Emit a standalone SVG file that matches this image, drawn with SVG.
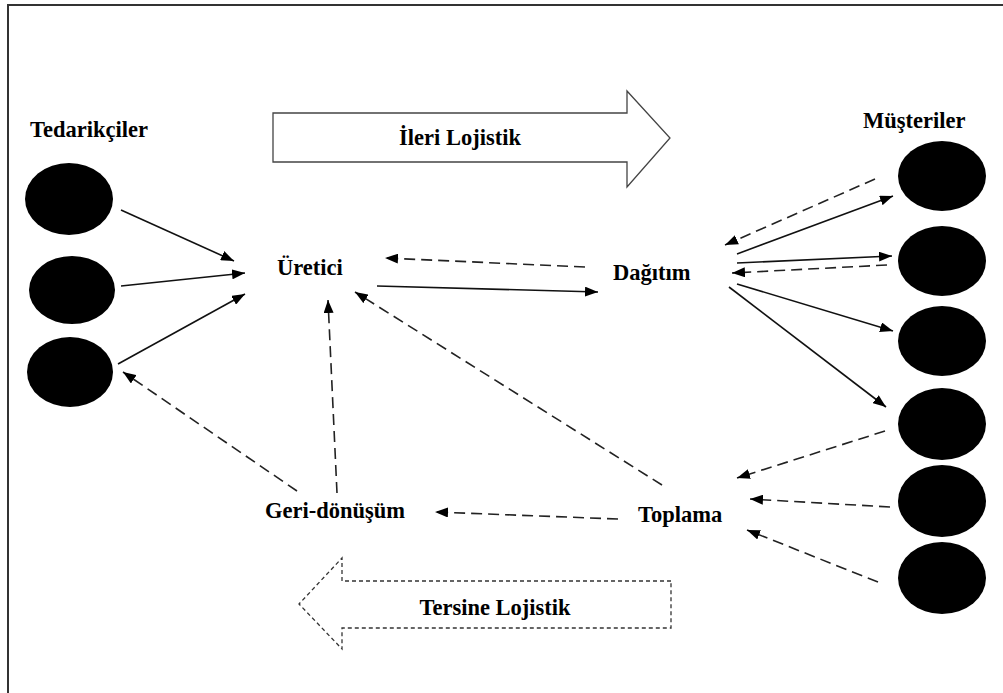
<svg xmlns="http://www.w3.org/2000/svg" width="1003" height="693" viewBox="0 0 1003 693">
<defs>
<marker id="ah" viewBox="0 0 13 10" refX="13" refY="5" markerWidth="13" markerHeight="10" markerUnits="userSpaceOnUse" orient="auto">
<path d="M0,0 L13,5 L0,10 Z" fill="#000"/>
</marker>
</defs>
<style>
.lbl{font-family:"Liberation Serif","Times New Roman",serif;font-weight:bold;font-size:22.5px;fill:#000;}
.node{fill:#000;}
.solid{stroke:#111;stroke-width:1.6;fill:none;marker-end:url(#ah);}
.dash{stroke:#222;stroke-width:1.6;fill:none;stroke-dasharray:11,6;marker-end:url(#ah);}
</style>
<rect width="1003" height="693" fill="#fff"/>
<g id="frame" stroke="#333" stroke-width="2" fill="none">
<path d="M8,693 L8,5 L1003,5"/>
</g>
<g id="ileri-lojistik">
<path d="M273,113 L627,113 L627,91 L670,138 L627,187 L627,162 L273,162 Z" fill="#fff" stroke="#444" stroke-width="1.3"/>
<text class="lbl" x="460" y="145" text-anchor="middle">İleri Lojistik</text>
</g>
<g id="tersine-lojistik">
<path d="M671,581 L342,581 L342,558 L299,604 L342,649 L342,628 L671,628 Z" fill="#fff" stroke="#333" stroke-width="1.3" stroke-dasharray="4,3"/>
<text class="lbl" x="495" y="615" text-anchor="middle">Tersine Lojistik</text>
</g>
<g id="tedarikciler">
<text class="lbl" x="30" y="137">Tedarikçiler</text>
<ellipse id="t1" class="node" cx="69" cy="199" rx="44" ry="36"/>
<ellipse id="t2" class="node" cx="72" cy="290" rx="43" ry="34"/>
<ellipse id="t3" class="node" cx="70" cy="372" rx="43" ry="35"/>
</g>
<g id="musteriler">
<text class="lbl" x="863" y="128">Müşteriler</text>
<ellipse id="m1" class="node" cx="942" cy="176" rx="44" ry="35"/>
<ellipse id="m2" class="node" cx="942" cy="261" rx="44" ry="35"/>
<ellipse id="m3" class="node" cx="942" cy="341" rx="44" ry="35"/>
<ellipse id="m4" class="node" cx="942" cy="424" rx="44" ry="36"/>
<ellipse id="m5" class="node" cx="942" cy="501" rx="44" ry="36"/>
<ellipse id="m6" class="node" cx="942" cy="578" rx="44" ry="36"/>
</g>
<g id="uretici"><text class="lbl" x="277" y="275">Üretici</text></g>
<g id="dagitim"><text class="lbl" x="613" y="280">Dağıtım</text></g>
<g id="toplama"><text class="lbl" x="638" y="522">Toplama</text></g>
<g id="geri-donusum"><text class="lbl" x="265" y="518">Geri-dönüşüm</text></g>
<g id="connectors">
<line class="solid" x1="121" y1="210" x2="234" y2="261"/>
<line class="solid" x1="121" y1="286" x2="245" y2="273"/>
<line class="solid" x1="118" y1="364" x2="245" y2="294"/>
<line class="dash" x1="297" y1="491" x2="123" y2="372"/>
<line class="dash" x1="337" y1="493" x2="328" y2="300"/>
<line class="dash" x1="662" y1="485" x2="355" y2="292"/>
<line class="solid" x1="377" y1="286" x2="598" y2="292"/>
<line class="dash" x1="585" y1="267" x2="385" y2="258"/>
<line class="dash" x1="875" y1="179" x2="725" y2="245"/>
<line class="solid" x1="737" y1="254" x2="893" y2="196"/>
<line class="solid" x1="737" y1="263" x2="892" y2="256"/>
<line class="dash" x1="887" y1="265" x2="732" y2="273"/>
<line class="solid" x1="737" y1="284" x2="893" y2="331"/>
<line class="solid" x1="729" y1="287" x2="886" y2="407"/>
<line class="dash" x1="885" y1="431" x2="737" y2="478"/>
<line class="dash" x1="890" y1="507" x2="750" y2="499"/>
<line class="dash" x1="878" y1="582" x2="747" y2="530"/>
<line class="dash" x1="618" y1="519" x2="435" y2="512"/>
</g>
</svg>
